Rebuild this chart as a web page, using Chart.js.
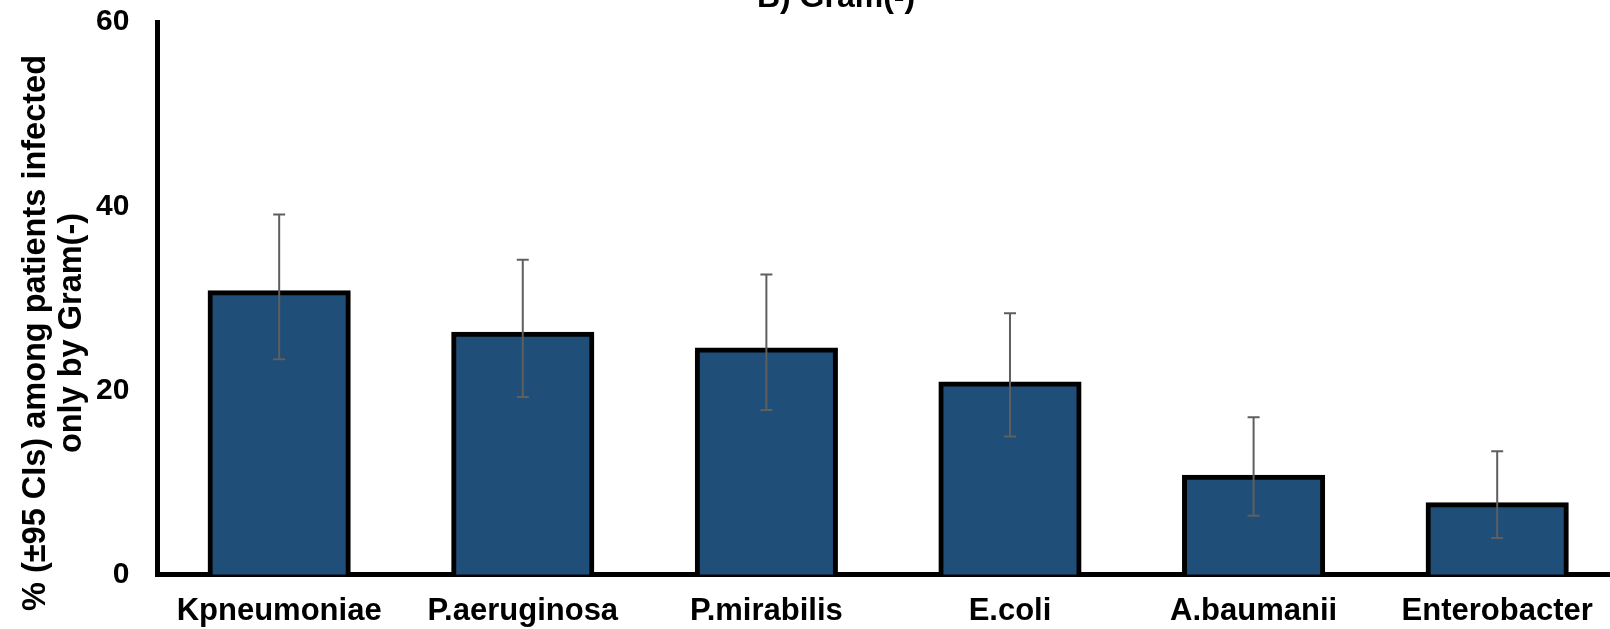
<!DOCTYPE html>
<html>
<head>
<meta charset="utf-8">
<script src="https://cdn.jsdelivr.net/npm/chart.js@4.4.1/dist/chart.umd.min.js"></script>
<style>
  body { margin: 0; overflow: hidden; background: #fff; }
  #wrap { position: relative; width: 1620px; height: 629px; }
  .title {
    position: absolute; left: 836px; top: -20px; transform: translateX(-50%);
    font: bold 32px 'Liberation Sans', Arial, sans-serif; line-height: 32px;
    white-space: nowrap; color: #000;
  }
  .ytitle {
    position: absolute; left: 52px; top: 333px;
    transform: translate(-50%, -50%) rotate(-90deg);
    font: bold 32.5px 'Liberation Sans', Arial, sans-serif; line-height: 36px;
    text-align: center; white-space: nowrap; color: #000;
  }
</style>
</head>
<body>
<div id="wrap">
  <canvas id="gramChart"></canvas>
  <div class="title">B) Gram(-)</div>
  <div class="ytitle">% (±95 CIs) among patients infected<br>only by Gram(-)</div>
</div>
<script>
const categories = ['Kpneumoniae', 'P.aeruginosa', 'P.mirabilis', 'E.coli', 'A.baumanii', 'Enterobacter'];
const percentages = [30.6, 26.1, 24.4, 20.7, 10.6, 7.6];
const ciLower = [23.4, 19.3, 17.9, 15.0, 6.4, 4.0];
const ciUpper = [39.1, 34.2, 32.6, 28.4, 17.1, 13.4];
const yMax = 60;
const yStep = 20;

// draws the 95% CI whiskers on top of the bars
const errorBars = {
  id: 'errorBars',
  afterDatasetsDraw(chart, args, opts) {
    const ctx = chart.ctx;
    const y = chart.scales.y;
    const bars = chart.getDatasetMeta(0).data;
    ctx.save();
    ctx.strokeStyle = opts.color;
    ctx.lineWidth = opts.width;
    bars.forEach((bar, i) => {
      const top = y.getPixelForValue(ciUpper[i]);
      const bottom = y.getPixelForValue(ciLower[i]);
      const half = opts.capWidth / 2;
      ctx.beginPath();
      ctx.moveTo(bar.x, top);
      ctx.lineTo(bar.x, bottom);
      ctx.moveTo(bar.x - half, top);
      ctx.lineTo(bar.x + half, top);
      ctx.moveTo(bar.x - half, bottom);
      ctx.lineTo(bar.x + half, bottom);
      ctx.stroke();
    });
    ctx.restore();
  }
};

const ctx = document.getElementById('gramChart').getContext('2d');
new Chart(ctx, {
  type: 'bar',
  data: {
    labels: categories,
    datasets: [
      {
        data: percentages,
        backgroundColor: '#1f4e79',
        borderColor: '#000',
        borderWidth: 5,
        inflateAmount: 2.5, // centre the outline on the bar edge, like Excel
        categoryPercentage: 1,
        barPercentage: 0.567
      }
    ]
  },
  options: {
    responsive: true,
    maintainAspectRatio: false,
    animation: false,
    layout: {
      padding: { top: 22, left: 96, right: 1, bottom: -1 }
    },
    plugins: {
      legend: { display: false },
      tooltip: { enabled: false },
      errorBars: { color: '#5f5f5f', width: 2, capWidth: 12 }
    },
    scales: {
      x: {
        // grid hidden; tickLength only keeps the gap under the axis
        grid: { display: false, tickLength: 18 },
        border: { display: true, color: '#000', width: 5 },
        ticks: {
          color: '#000',
          padding: 0,
          font: { family: "'Liberation Sans', Arial, sans-serif", size: 31, weight: 'bold' }
        }
      },
      y: {
        min: 0,
        max: yMax,
        grid: { display: false, tickLength: 28 },
        border: { display: true, color: '#000', width: 5 },
        ticks: {
          stepSize: yStep,
          color: '#000',
          padding: 0,
          font: { family: "'Liberation Sans', Arial, sans-serif", size: 30, weight: 'bold' }
        }
      }
    }
  },
  plugins: [errorBars]
});
</script>
</body>
</html>
